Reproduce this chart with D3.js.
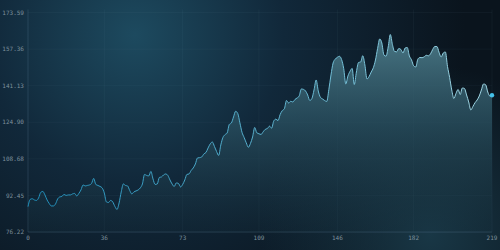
<!DOCTYPE html>
<html>
<head>
<meta charset="utf-8">
<script src="https://cdn.jsdelivr.net/npm/d3@7"></script>
<style>
  html, body { margin: 0; padding: 0; background: #0b1620; }
  svg { display: block; }
  .axis text { font-family: "DejaVu Sans Mono", monospace; font-size: 6px; fill: #7d909c; }
</style>
</head>
<body>
<svg id="chart" width="500" height="250"></svg>
<script>
// tick values
const yTicks = [76.22, 92.45, 108.68, 124.90, 141.13, 157.36, 173.59];
const xTicks = [0, 36, 73, 109, 146, 182, 219];

// one value per step, 0..219
const values = [
  87.47, 90.66, 90.98, 90.44, 90.22, 91.33, 93.77, 94.21, 92.66, 90.44,
  88.89, 87.78, 87.78, 88.67, 90.89, 91.78, 92.00, 92.88, 92.44, 92.66,
  92.66, 93.11, 93.33, 92.22, 93.33, 94.88, 97.09, 96.65, 96.87, 97.09,
  97.76, 99.98, 97.32, 96.87, 96.43, 95.77, 93.55, 89.56, 89.33, 90.22,
  89.56, 87.56, 86.23, 89.11, 94.00, 97.54, 96.87, 96.65, 94.66, 93.11,
  94.00, 94.44, 94.88, 95.77, 97.54, 101.75, 101.31, 101.09, 103.08, 99.76,
  97.32, 97.54, 100.42, 100.64, 101.53, 101.97, 101.31, 99.31, 97.54, 96.43,
  97.98, 97.76, 96.21, 97.32, 99.31, 101.75, 101.97, 103.52, 104.63, 106.40,
  109.07, 109.20, 109.51, 110.84, 111.51, 113.50, 115.28, 116.16, 114.17, 111.95,
  110.18, 114.83, 118.16, 119.40, 120.15, 123.92, 124.59, 127.25, 129.78, 128.80,
  124.68, 120.46, 118.16, 115.81, 113.81, 115.50, 118.38, 122.59, 120.24, 119.80,
  119.49, 120.68, 121.75, 122.15, 123.17, 122.28, 125.48, 126.27, 125.65, 128.31,
  130.04, 130.89, 134.56, 133.46, 134.21, 133.90, 135.01, 135.67, 136.56, 139.66,
  139.49, 138.78, 137.01, 134.56, 135.45, 139.22, 143.66, 138.78, 135.98, 135.23,
  134.56, 134.12, 139.44, 145.87, 151.19, 152.88, 153.72, 154.16, 152.75, 148.76,
  141.88, 145.43, 147.51, 148.76, 141.66, 147.20, 151.42, 151.64, 154.43, 150.31,
  144.10, 145.21, 147.20, 149.11, 152.52, 157.62, 161.84, 160.06, 154.74, 154.21,
  158.29, 163.83, 159.40, 156.29, 156.16, 157.62, 157.18, 155.63, 157.84, 158.07,
  154.30, 152.61, 149.99, 149.42, 152.88, 153.63, 153.54, 153.94, 154.61, 154.39,
  155.27, 157.18, 158.51, 158.51, 155.94, 153.86, 155.63, 156.07, 149.64, 144.76,
  139.22, 135.45, 137.67, 139.44, 137.22, 140.11, 139.89, 137.01, 133.90, 130.35,
  131.90, 133.59, 134.79, 136.56, 139.22, 141.88, 141.53, 138.33, 136.56, 136.87
];

const W = 500, H = 250;
const margin = { top: 12.5, right: 8, bottom: 18, left: 28 };

const svg = d3.select("#chart");
const defs = svg.append("defs");

// background glow
const bg = defs.append("radialGradient")
    .attr("id", "bg")
    .attr("gradientUnits", "userSpaceOnUse")
    .attr("cx", 135).attr("cy", 35).attr("r", 330);
bg.append("stop").attr("offset", "0%").attr("stop-color", "#1d4a5f");
bg.append("stop").attr("offset", "45%").attr("stop-color", "#11283a");
bg.append("stop").attr("offset", "100%").attr("stop-color", "#0a141d");

const bg2 = defs.append("radialGradient")
    .attr("id", "bg2")
    .attr("gradientUnits", "userSpaceOnUse")
    .attr("cx", 430).attr("cy", 235).attr("r", 170);
bg2.append("stop").attr("offset", "0%").attr("stop-color", "#1f4657").attr("stop-opacity", 0.7);
bg2.append("stop").attr("offset", "100%").attr("stop-color", "#1f4657").attr("stop-opacity", 0);

svg.append("rect").attr("width", W).attr("height", H).attr("fill", "url(#bg)");
svg.append("rect").attr("width", W).attr("height", H).attr("fill", "url(#bg2)");

const x = d3.scaleLinear().domain([0, 219]).range([margin.left, W - margin.right]);
const y = d3.scaleLinear().domain([76.22, 173.59]).range([H - margin.bottom, margin.top]);

// grid
const g = svg.append("g");
g.selectAll(".hgrid").data(yTicks).join("line")
    .attr("x1", margin.left).attr("x2", W - margin.right)
    .attr("y1", d => y(d)).attr("y2", d => y(d))
    .attr("stroke", "#6f98ad").attr("stroke-opacity", 0.06);
g.selectAll(".vgrid").data(xTicks).join("line")
    .attr("x1", d => x(d)).attr("x2", d => x(d))
    .attr("y1", margin.top - 3).attr("y2", H - margin.bottom)
    .attr("stroke", "#6f98ad").attr("stroke-opacity", d => d === 0 ? 0.22 : 0.07);
g.append("line")
    .attr("x1", margin.left).attr("x2", W - margin.right)
    .attr("y1", H - margin.bottom).attr("y2", H - margin.bottom)
    .attr("stroke", "#6f98ad").attr("stroke-opacity", 0.22);

// area fill, bright near the top and fading out towards the baseline
const areaGrad = defs.append("linearGradient")
    .attr("id", "areaFill")
    .attr("gradientUnits", "userSpaceOnUse")
    .attr("x1", 0).attr("y1", 35).attr("x2", 0).attr("y2", H - margin.bottom);
areaGrad.append("stop").attr("offset", "0%").attr("stop-color", "#4d7c8a").attr("stop-opacity", 0.95);
areaGrad.append("stop").attr("offset", "45%").attr("stop-color", "#2c5464").attr("stop-opacity", 0.7);
areaGrad.append("stop").attr("offset", "100%").attr("stop-color", "#16303d").attr("stop-opacity", 0.2);

const lineGrad = defs.append("linearGradient")
    .attr("id", "lineStroke")
    .attr("gradientUnits", "userSpaceOnUse")
    .attr("x1", margin.left).attr("y1", 0).attr("x2", W - margin.right).attr("y2", 0);
lineGrad.append("stop").attr("offset", "0%").attr("stop-color", "#1f8fbb");
lineGrad.append("stop").attr("offset", "50%").attr("stop-color", "#5ab2cf");
lineGrad.append("stop").attr("offset", "100%").attr("stop-color", "#a2d8e6");

const area = d3.area()
    .x((d, i) => x(i))
    .y0(y(76.22))
    .y1(d => y(d))
    .curve(d3.curveMonotoneX);

const line = d3.line()
    .x((d, i) => x(i))
    .y(d => y(d))
    .curve(d3.curveMonotoneX);

svg.append("path")
    .datum(values)
    .attr("fill", "url(#areaFill)")
    .attr("d", area);

svg.append("path")
    .datum(values)
    .attr("fill", "none")
    .attr("stroke", "url(#lineStroke)")
    .attr("stroke-width", 1)
    .attr("d", line);

// end marker
const last = values.length - 1;
svg.append("circle")
    .attr("cx", x(last)).attr("cy", y(values[last]))
    .attr("r", 2.2)
    .attr("fill", "#45c2ea");

// axes labels
const yAxis = svg.append("g").attr("class", "axis");
yAxis.selectAll("text").data(yTicks).join("text")
    .attr("x", 24).attr("y", d => y(d))
    .attr("dy", "0.35em")
    .attr("text-anchor", "end")
    .text(d => d.toFixed(2));

const xAxis = svg.append("g").attr("class", "axis");
xAxis.selectAll("text").data(xTicks).join("text")
    .attr("x", d => x(d)).attr("y", H - margin.bottom + 8)
    .attr("text-anchor", "middle")
    .text(d => d);
</script>
</body>
</html>
